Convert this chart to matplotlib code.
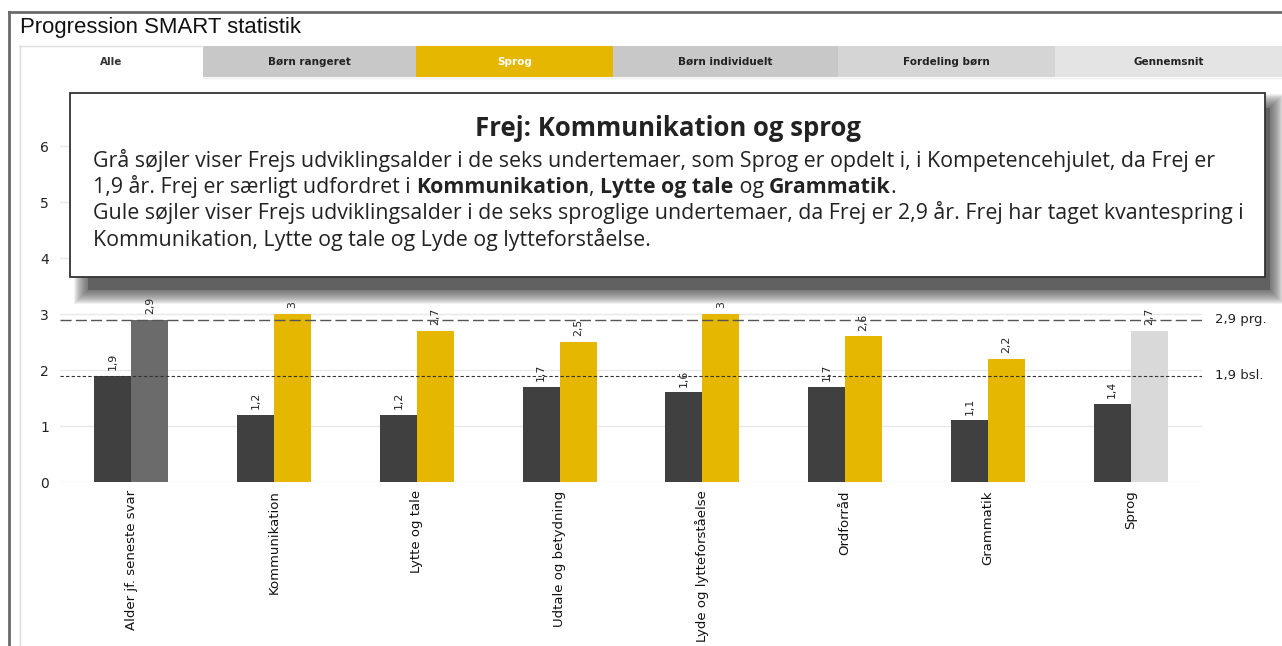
import matplotlib
matplotlib.use("Agg")
import matplotlib.pyplot as plt
from matplotlib.patches import Rectangle
from matplotlib.lines import Line2D
from matplotlib.text import Annotation
from matplotlib.transforms import blended_transform_factory

# ---------------- data ----------------
categories = ["Alder jf. seneste svar", "Kommunikation", "Lytte og tale",
              "Udtale og betydning", "Lyde og lytteforståelse", "Ordforråd",
              "Grammatik", "Sprog"]
bsl_values = [1.9, 1.2, 1.2, 1.7, 1.6, 1.7, 1.1, 1.4]
prg_values = [2.9, 3.0, 2.7, 2.5, 3.0, 2.6, 2.2, 2.7]
bsl_ref = 1.9
prg_ref = 2.9
yticks = [0, 1, 2, 3, 4, 5, 6]
tabs = ["Alle", "Børn rangeret", "Sprog", "Børn individuelt", "Fordeling børn", "Gennemsnit"]
page_title = "Progression SMART statistik"
box_title = "Frej: Kommunikation og sprog"

# ---------------- layout helpers ----------------
W, H = 1282, 646
fig = plt.figure(figsize=(W / 100, H / 100), dpi=100)
fig.patch.set_facecolor("white")


def fx(x):
    return x / W


def fy(y):
    return 1 - y / H


def rect(x0, y0, x1, y1, **kw):
    r = Rectangle((fx(x0), fy(y1)), fx(x1) - fx(x0), fy(y0) - fy(y1),
                  transform=fig.transFigure, **kw)
    fig.add_artist(r)
    return r


def hline(x0, x1, y, **kw):
    fig.add_artist(Line2D([fx(x0), fx(x1)], [fy(y), fy(y)], transform=fig.transFigure, **kw))


def vline(x, y0, y1, **kw):
    fig.add_artist(Line2D([fx(x), fx(x)], [fy(y0), fy(y1)], transform=fig.transFigure, **kw))


# outer frame
hline(9, W, 12, color="#6a6a6a", lw=2, zorder=1)
vline(9, 12, H, color="#6a6a6a", lw=2, zorder=1)
fig.text(fx(20), fy(27), page_title, fontsize=15.9, family="Liberation Sans",
         va="center", ha="left", color="#111111")

# tabs
tab_edges = [19, 203, 416, 613, 838, 1055, 1282]
tab_colors = ["#ffffff", "#c8c8c8", "#e5b700", "#c8c8c8", "#d5d5d5", "#e4e4e4"]
tab_text_colors = ["#333333", "#222222", "#ffffff", "#222222", "#222222", "#222222"]
for i, name in enumerate(tabs):
    rect(tab_edges[i], 46, tab_edges[i + 1], 77, facecolor=tab_colors[i],
         edgecolor="none", zorder=1)
    fig.text(fx((tab_edges[i] + tab_edges[i + 1]) / 2), fy(62), name,
             fontsize=7.5, fontweight="bold", family="DejaVu Sans",
             ha="center", va="center", color=tab_text_colors[i], zorder=2)
hline(19, 203, 46, color="#e0e0e0", lw=1, zorder=2)
vline(19.5, 46, H, color="#dcdcdc", lw=1, zorder=2)
hline(203, W, 78, color="#eeeeee", lw=1, zorder=2)

# ---------------- chart ----------------
ax = fig.add_axes([fx(60), fy(482), fx(1202) - fx(60), fy(90) - fy(482)])
ax.set_xlim(-0.5, len(categories) - 0.5)
ax.set_ylim(0, 7)
for s in ax.spines.values():
    s.set_visible(False)
ax.set_yticks(yticks)
ax.set_yticklabels([str(t) for t in yticks], fontsize=10, color="#222222")
ax.tick_params(axis="y", length=0, pad=8)
ax.tick_params(axis="x", length=0, pad=6)
ax.grid(axis="y", color="#e8e8e8", lw=1)
ax.set_axisbelow(True)

bw = 0.26
xs = list(range(len(categories)))
second_colors = ["#6b6b6b"] + ["#e5b700"] * 6 + ["#d9d9d9"]
ax.bar([x - bw / 2 for x in xs], bsl_values, width=bw, color="#404040", zorder=2)
ax.bar([x + bw / 2 for x in xs], prg_values, width=bw, color=second_colors, zorder=2)


def fmt(v):
    s = f"{v:.1f}".replace(".", ",")
    return s[:-2] if s.endswith(",0") else s


for x, v in zip(xs, bsl_values):
    ax.annotate(fmt(v), (x - bw / 2, v), xytext=(0, 4), textcoords="offset points",
                rotation=90, ha="center", va="bottom", fontsize=7.8, color="#222222")
for x, v in zip(xs, prg_values):
    ax.annotate(fmt(v), (x + bw / 2, v), xytext=(0, 4), textcoords="offset points",
                rotation=90, ha="center", va="bottom", fontsize=7.8, color="#222222")

ax.set_xticks(xs)
ax.set_xticklabels(categories, rotation=90, fontsize=9.5, color="#111111", va="top")

ax.axhline(prg_ref, color="#555555", lw=1, dashes=(8, 3), zorder=3)
ax.axhline(bsl_ref, color="#333333", lw=0.8, dashes=(3, 2), zorder=3)
tr = blended_transform_factory(ax.transAxes, ax.transData)
ax.text(1.011, prg_ref, fmt(prg_ref) + " prg.", transform=tr, fontsize=9.5,
        va="center", ha="left", color="#222222")
ax.text(1.011, bsl_ref, fmt(bsl_ref) + " bsl.", transform=tr, fontsize=9.5,
        va="center", ha="left", color="#222222")

# ---------------- info box with soft shadow ----------------
sx0, sy0, sx1, sy1 = 88, 108, 1270, 290
for i in range(14, 0, -1):
    rect(sx0 - i, sy0 - i, sx1 + i, sy1 + i, facecolor="#404040", edgecolor="none",
         alpha=0.075, zorder=5)
rect(sx0, sy0, sx1, sy1, facecolor="#505050", edgecolor="none", alpha=0.6, zorder=5)
rect(70, 93, 1265, 277, facecolor="white", edgecolor="#333333", lw=1.3, zorder=6)

fig.text(fx(668), fy(128), box_title, fontsize=18.5, fontweight="bold",
         family="Open Sans", ha="center", va="center", color="#222222", zorder=7)

body_lines = [
    [("Grå søjler viser Frejs udviklingsalder i de seks undertemaer, som Sprog er opdelt i, i Kompetencehjulet, da Frej er", False)],
    [("1,9 år. Frej er særligt udfordret i ", False), ("Kommunikation", True), (", ", False),
     ("Lytte og tale", True), (" og ", False), ("Grammatik", True), (".", False)],
    [("Gule søjler viser Frejs udviklingsalder i de seks sproglige undertemaer, da Frej er 2,9 år. Frej har taget kvantespring i", False)],
    [("Kommunikation, Lytte og tale og Lyde og lytteforståelse.", False)],
]
line_y = [161, 187, 213, 240]
for segs, yy in zip(body_lines, line_y):
    prev = None
    for txt, bold in segs:
        kw = dict(fontsize=15.4, family="Open Sans", color="#222222", zorder=7,
                  fontweight="bold" if bold else "normal")
        if prev is None:
            prev = fig.text(fx(93), fy(yy + 6), txt, ha="left", va="baseline", **kw)
        else:
            prev = fig.add_artist(Annotation(
                txt, xy=(1, 0), xycoords=prev, xytext=(0, 0), textcoords="offset points",
                ha="left", va="bottom", annotation_clip=False, **kw))

fig.savefig("out.png", dpi=100)
